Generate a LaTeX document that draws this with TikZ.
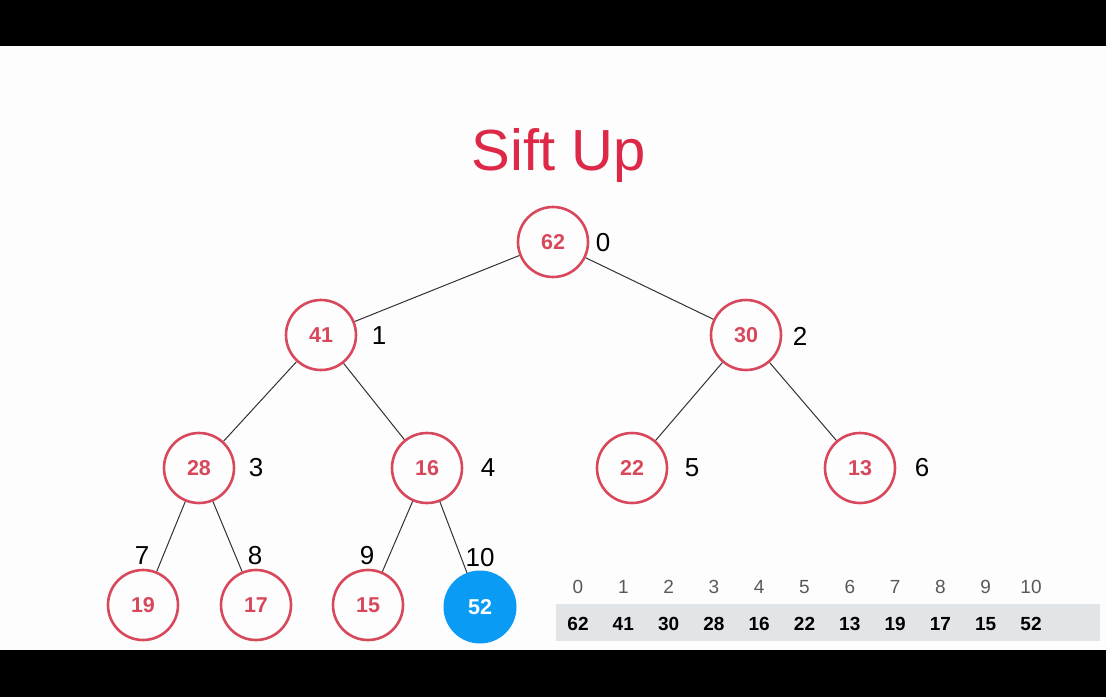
\documentclass[tikz,border=0pt]{standalone}
\usepackage{fontspec}
\setmainfont{Liberation Sans}
\definecolor{heapred}{RGB}{216,72,92}
\definecolor{titlered}{RGB}{222,40,72}
\definecolor{hotblue}{RGB}{10,155,245}
\definecolor{edgegray}{RGB}{50,50,50}
\definecolor{cellgray}{RGB}{226,229,231}
\definecolor{paper}{RGB}{252,253,252}
\begin{document}
\begin{tikzpicture}[x=1pt,y=-1pt,
  heapnode/.style={circle,draw=heapred,line width=2.6pt,minimum size=70pt,inner sep=0pt,
    text=heapred,font=\fontsize{21.5}{23}\selectfont\bfseries},
  hotnode/.style={circle,fill=hotblue,draw=hotblue,line width=1pt,minimum size=72pt,inner sep=0pt,
    text=white,font=\fontsize{21.5}{23}\selectfont\bfseries},
  idxlabel/.style={inner sep=0pt,font=\fontsize{26}{28}\selectfont,text=black},
  edge/.style={draw=edgegray,line width=1pt},
  colindex/.style={inner sep=0pt,font=\fontsize{19}{21}\selectfont,text=black!65},
  colvalue/.style={inner sep=0pt,font=\fontsize{19}{21}\selectfont\bfseries,text=black}]
  % page and letterbox bars
  \fill[paper] (0,0) rectangle (1106,697);
  \fill[black] (0,0) rectangle (1106,46);
  \fill[black] (0,650) rectangle (1106,697);
  \useasboundingbox (0,0) rectangle (1106,697);

  % title
  \node[inner sep=0pt,text=titlered,font=\fontsize{58}{60}\selectfont] (title) at (559,155) {Sift Up};

  % heap nodes
  \node[heapnode] (n0) at (553,242) {62};
  \node[heapnode] (n1) at (321,335) {41};
  \node[heapnode] (n2) at (746,335) {30};
  \node[heapnode] (n3) at (199,468) {28};
  \node[heapnode] (n4) at (427,468) {16};
  \node[heapnode] (n5) at (632,468) {22};
  \node[heapnode] (n6) at (860,468) {13};
  \node[heapnode] (n7) at (143,605) {19};
  \node[heapnode] (n8) at (256,605) {17};
  \node[heapnode] (n9) at (368,605) {15};
  \node[hotnode]  (n10) at (480,607) {52};

  % edges
  \draw[edge] (n0) -- (n1);
  \draw[edge] (n0) -- (n2);
  \draw[edge] (n1) -- (n3);
  \draw[edge] (n1) -- (n4);
  \draw[edge] (n2) -- (n5);
  \draw[edge] (n2) -- (n6);
  \draw[edge] (n3) -- (n7);
  \draw[edge] (n3) -- (n8);
  \draw[edge] (n4) -- (n9);
  \draw[edge] (n4) -- (n10);

  % array indices beside the nodes
  \node[idxlabel] (l0) at (603,243) {0};
  \node[idxlabel] (l1) at (379,336) {1};
  \node[idxlabel] (l2) at (800,336) {2};
  \node[idxlabel] (l3) at (256,468) {3};
  \node[idxlabel] (l4) at (488,468) {4};
  \node[idxlabel] (l5) at (692,468) {5};
  \node[idxlabel] (l6) at (922,468) {6};
  \node[idxlabel] (l7) at (142,556) {7};
  \node[idxlabel] (l8) at (255,556) {8};
  \node[idxlabel] (l9) at (367,556) {9};
  \node[idxlabel] (l10) at (480,558) {10};

  % array view
  \fill[cellgray] (556,604) rectangle (1100,641);
  \foreach \i/\v [count=\k from 0] in {0/62,1/41,2/30,3/28,4/16,5/22,6/13,7/19,8/17,9/15,10/52}{
    \node[colindex] (ai\i) at (578+45.3*\k,587) {\i};
    \node[colvalue] (av\i) at (578+45.3*\k,624) {\v};
  }
\end{tikzpicture}
\end{document}
